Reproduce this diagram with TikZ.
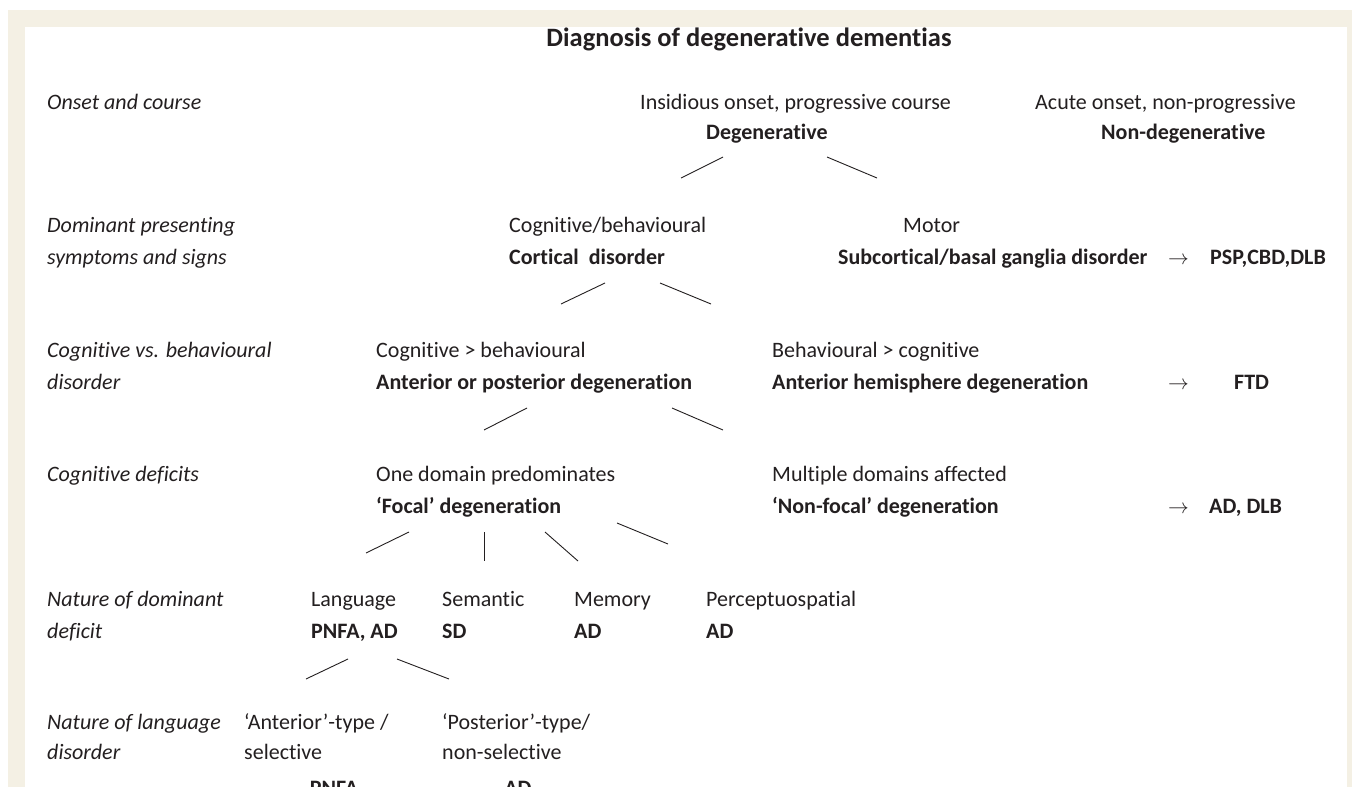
\documentclass[tikz,border=0pt]{standalone}
\usepackage{fontspec}
\setmainfont{Carlito}[Ligatures=NoCommon]
\definecolor{cream}{RGB}{244,240,228}
\definecolor{ink}{RGB}{35,31,32}
\newcommand{\bodyfont}{\fontsize{22}{26}\selectfont}
\tikzset{
  txt/.style={anchor=base west,inner sep=0pt,font=\bodyfont},
  lab/.style={txt,font=\bodyfont\itshape},
  bld/.style={txt,font=\bodyfont\bfseries},
  res/.style={anchor=base,inner sep=0pt,font=\bodyfont\bfseries},
  arr/.style={anchor=base west,inner sep=0pt,font=\fontsize{20}{24}\selectfont},
  branch/.style={draw=ink,line width=0.9pt},
}
\begin{document}
\begin{tikzpicture}[x=1pt,y=-1pt,text=ink]
\useasboundingbox (0,0) rectangle (1352,787);
\clip (0,0) rectangle (1352,787);
%frame
\fill[cream](8,10) rectangle (1352,787);
\fill[white](25,27) rectangle (1347,787);
%title
\node (title) at (749,46)[anchor=base,inner sep=0pt,font=\fontsize{26.5}{30}\selectfont\bfseries]{Diagnosis of degenerative dementias};

%left column
\node (l1) at (47,109)[lab]{Onset and course};
\node (l2a) at (47,232)[lab]{Dominant presenting};
\node (l2b) at (47,264)[lab]{symptoms and signs};
\node (l3a) at (47,357)[lab]{Cognitive vs. behavioural};
\node (l3b) at (47,389)[lab]{disorder};
\node (l4) at (47,481)[lab]{Cognitive deficits};
\node (l5a) at (47,606)[lab]{Nature of dominant};
\node (l5b) at (47,638)[lab]{deficit};
\node (l6a) at (47,729)[lab]{Nature of language};
\node (l6b) at (47,759)[lab]{disorder};

%onset
\node (insid) at (640,109)[txt]{Insidious onset, progressive course};
\node (degen) at (706,139)[bld]{Degenerative};
\node (acute) at (1035,109)[txt]{Acute onset, non-progressive};
\node (nondegen) at (1101,139)[bld]{Non-degenerative};

%symptoms
\node (cogbeh) at (509,232)[txt]{Cognitive/behavioural};
\node (cortical) at (509,264)[bld]{Cortical\ \ disorder};
\node (motor) at (903,232)[txt]{Motor};
\node (subcort) at (838,264)[bld]{Subcortical/basal ganglia disorder};
\node (arr1) at (1168,264)[arr]{$\rightarrow$};
\node (psp) at (1210,264)[bld]{PSP,CBD,DLB};

%cognitive vs behavioural
\node (cgtb) at (376,357)[txt]{Cognitive > behavioural};
\node (antpost) at (376,389)[bld]{Anterior or posterior degeneration};
\node (bgtc) at (772,357)[txt]{Behavioural > cognitive};
\node (anthem) at (772,389)[bld]{Anterior hemisphere degeneration};
\node (arr2) at (1168,389)[arr]{$\rightarrow$};
\node (ftd) at (1234,389)[bld]{FTD};

%deficits
\node (onedom) at (376,481)[txt]{One domain predominates};
\node (focal) at (376,513)[bld]{‘Focal’ degeneration};
\node (multdom) at (772,481)[txt]{Multiple domains affected};
\node (nonfocal) at (772,513)[bld]{‘Non-focal’ degeneration};
\node (arr3) at (1168,513)[arr]{$\rightarrow$};
\node (addlb) at (1209,513)[bld]{AD, DLB};

%dominant deficit
\node (lang) at (311,606)[txt]{Language};
\node (langres) at (311,638)[bld]{PNFA, AD};
\node (sem) at (442,606)[txt]{Semantic};
\node (semres) at (442,638)[bld]{SD};
\node (mem) at (574,606)[txt]{Memory};
\node (memres) at (574,638)[bld]{AD};
\node (perc) at (706,606)[txt]{Perceptuospatial};
\node (percres) at (706,638)[bld]{AD};

%language disorder
\node (anta) at (244,729)[txt]{‘Anterior’-type /};
\node (antb) at (244,759)[txt]{selective};
\node (antres) at (334,795)[res]{PNFA};
\node (posa) at (442,729)[txt]{‘Posterior’-type/};
\node (posb) at (442,759)[txt]{non-selective};
\node (posres) at (518,795)[res]{AD};

%branches
\coordinate (b1a) at (723,157); \coordinate (b1b) at (681,178);
\coordinate (b1c) at (827,157); \coordinate (b1d) at (877,178);
\coordinate (b2a) at (605,283); \coordinate (b2b) at (561,304);
\coordinate (b2c) at (660,283); \coordinate (b2d) at (711,304);
\coordinate (b3a) at (527,408); \coordinate (b3b) at (484,430);
\coordinate (b3c) at (672,408); \coordinate (b3d) at (723,430);
\coordinate (b4a) at (409,532); \coordinate (b4b) at (366,553);
\coordinate (b4c) at (484,532); \coordinate (b4d) at (484,561);
\coordinate (b4e) at (545,532); \coordinate (b4f) at (578,561);
\coordinate (b4g) at (617,523); \coordinate (b4h) at (668,544);
\coordinate (b5a) at (348,659); \coordinate (b5b) at (306,679);
\coordinate (b5c) at (397,659); \coordinate (b5d) at (449,679);
\draw[branch](b1a)--(b1b);
\draw[branch](b1c)--(b1d);
\draw[branch](b2a)--(b2b);
\draw[branch](b2c)--(b2d);
\draw[branch](b3a)--(b3b);
\draw[branch](b3c)--(b3d);
\draw[branch](b4a)--(b4b);
\draw[branch](b4c)--(b4d);
\draw[branch](b4e)--(b4f);
\draw[branch](b4g)--(b4h);
\draw[branch](b5a)--(b5b);
\draw[branch](b5c)--(b5d);
\end{tikzpicture}
\end{document}
